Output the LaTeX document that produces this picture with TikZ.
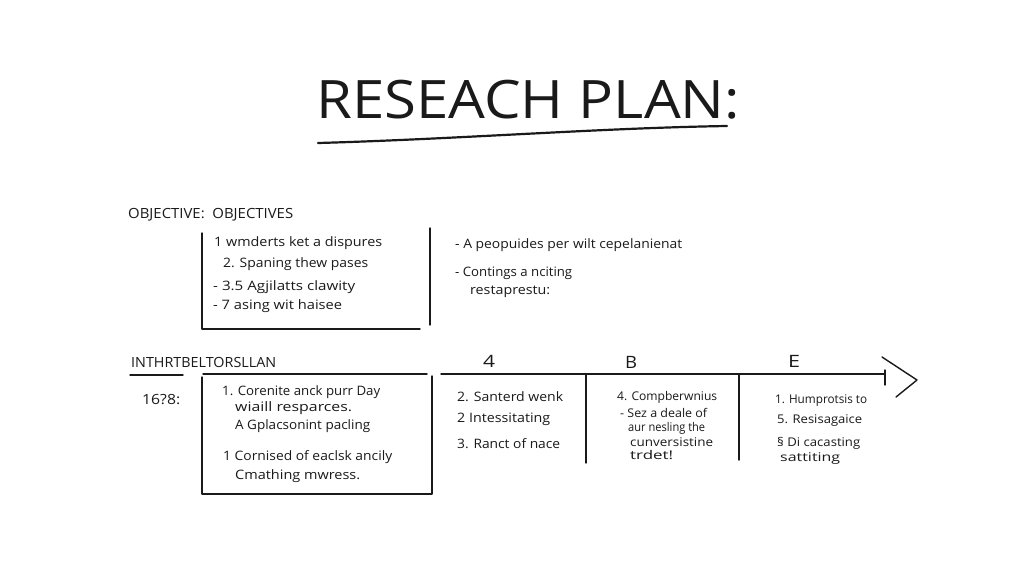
\documentclass[tikz,border=0pt]{standalone}
\usepackage{graphicx}
\usepackage{fontspec}
\setmainfont{Open Sans}
\definecolor{ink}{HTML}{1A1A1A}
% set a text at a given width, keeping its natural height
\newcommand\fw[2]{\resizebox{#1}{\height}{#2}}
\begin{document}
\begin{tikzpicture}[x=1pt,y=-1pt,
  txt/.style={anchor=west, inner sep=0pt, text=ink, font=\fontsize{13}{15}\selectfont},
  smalltxt/.style={txt, font=\fontsize{12}{14}\selectfont},
  captxt/.style={anchor=west, inner sep=0pt, text=ink, font=\fontsize{14}{16}\selectfont},
  phase/.style={anchor=center, inner sep=0pt, text=ink, font=\fontsize{17}{19}\selectfont},
  pen/.style={draw=ink, line width=1.4pt, line cap=round, line join=round},
  thickpen/.style={draw=ink, line width=2.2pt, line cap=round, line join=round}]
\useasboundingbox[fill=white] (0,0) rectangle (1024,576);

% title
\node[anchor=west, inner sep=0pt, text=ink, font=\fontsize{53}{60}\selectfont] (title) at (316,100) {\fw{424pt}{RESEACH PLAN:}};
\draw[thickpen] (318,143) .. controls (460,139) and (600,128) .. (727,126);

% objectives
\node[captxt] (objh) at (128,215) {\fw{165pt}{OBJECTIVE:\ \ OBJECTIVES}};
\draw[pen] (202,233) -- (202,329) -- (420,329);
\draw[pen] (430,228) -- (430,325);
\node[txt] (o1) at (214,243) {\fw{168pt}{1 wmderts ket a dispures}};
\node[txt] (o2) at (223,264) {\fw{145pt}{2. Spaning thew pases}};
\node[txt] (o3) at (213,287) {\fw{142pt}{- 3.5 Agjilatts clawity}};
\node[txt] (o4) at (213,306) {\fw{129pt}{- 7 asing wit haisee}};

\node[txt] (r1) at (455,245) {\fw{227pt}{- A peopuides per wilt cepelanienat}};
\node[txt] (r2) at (455,273) {\fw{117pt}{- Contings a nciting}};
\node[txt] (r3) at (470,292) {\fw{80pt}{restaprestu:}};

% timeline block
\node[captxt] (tlh) at (131,362) {\fw{145pt}{INTHRTBELTORSLLAN}};
\draw[pen] (130,375) -- (183,375);
\node[txt, font=\fontsize{14}{16}\selectfont] (yr) at (142,400) {\fw{38pt}{16?8:}};
\draw[pen] (203,374) -- (427,374);
\draw[pen] (202,377) -- (202,494) -- (432,494) -- (432,376);
\node[txt] (b1) at (222,392) {\fw{158pt}{1. Corenite anck purr Day}};
\node[txt] (b2) at (235,408) {\fw{117pt}{wiaill resparces.}};
\node[txt] (b3) at (235,426) {\fw{135pt}{A Gplacsonint pacling}};
\node[txt] (b4) at (223,457) {\fw{169pt}{1 Cornised of eaclsk ancily}};
\node[txt] (b5) at (235,476) {\fw{125pt}{Cmathing mwress.}};

% axis with phases
\coordinate (ax0) at (441,374);
\coordinate (ax1) at (885,374);
\draw[pen] (ax0) -- (ax1);
\draw[pen] (885,370) -- (885,385);
\draw[pen] (882,357) -- (917,380) -- (896,397);
\draw[pen] (586,374) -- (586,463);
\draw[pen] (739,374) -- (739,460);
\node[phase] (p1) at (489,361) {\fw{12pt}{4}};
\node[phase] (p2) at (631,362) {\fw{12pt}{B}};
\node[phase] (p3) at (794,361) {\fw{12pt}{E}};

\node[txt] (c11) at (457,397) {\fw{106pt}{2. Santerd wenk}};
\node[txt] (c12) at (457,419) {\fw{93pt}{2 Intessitating}};
\node[txt] (c13) at (457,444) {\fw{103pt}{3. Ranct of nace}};

\node[smalltxt] (c21) at (617,397) {\fw{100pt}{4. Compberwnius}};
\node[smalltxt] (c22) at (620,413) {\fw{87pt}{- Sez a deale of}};
\node[smalltxt] (c23) at (628,428) {\fw{77pt}{aur nesling the}};
\node[smalltxt] (c24) at (630,442) {\fw{83pt}{cunversistine}};
\node[smalltxt] (c25) at (630,455) {\fw{43pt}{trdet!}};

\node[smalltxt] (c31) at (775,401) {\fw{92pt}{1. Humprotsis to}};
\node[smalltxt] (c32) at (777,421) {\fw{85pt}{5. Resisagaice}};
\node[smalltxt] (c33) at (777,443) {\fw{83pt}{§ Di cacasting}};
\node[smalltxt] (c34) at (780,459) {\fw{60pt}{sattiting}};
\end{tikzpicture}
\end{document}
